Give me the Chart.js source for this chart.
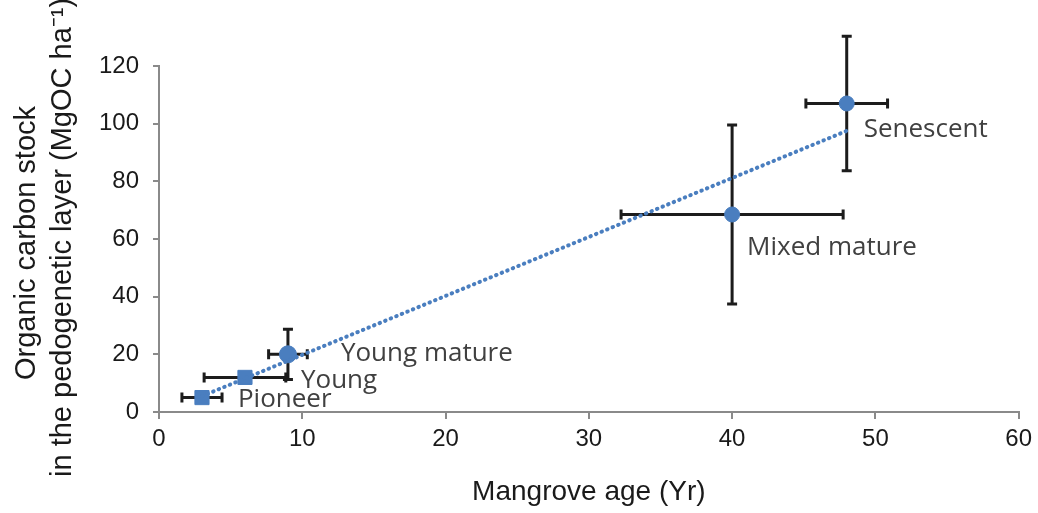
<!DOCTYPE html>
<html>
<head>
<meta charset="utf-8">
<script src="https://cdn.jsdelivr.net/npm/chart.js@4.4.1/dist/chart.umd.min.js"></script>
<style>
  body { margin: 0; background: #fff; }
  #wrap { width: 1038px; height: 513px; position: relative; }
</style>
</head>
<body>
<div id="wrap"><canvas id="chart"></canvas></div>
<script>
// dados
const stages = ['Pioneer', 'Young', 'Young mature', 'Mixed mature', 'Senescent'];
const ages = [3, 6, 9, 40, 48];
const carbonStock = [5, 12, 20, 68.5, 107];
const ageErr = [1.4, 2.85, 1.35, 7.75, 2.85];
const stockErr = [0, 0, 8.7, 31, 23.3];
const trendAges = [3, 48];
const trendStock = [5.5, 97.5];
const xTicks = [0, 10, 20, 30, 40, 50, 60];
const yTicks = [0, 20, 40, 60, 80, 100, 120];

// posição dos rótulos em pixels relativos ao ponto
const labelOffsets = [[36, 2], [56, 3], [53, -1], [15, 33], [17, 26]];
const pointStyles = ['rect', 'rect', 'circle', 'circle', 'circle'];
const pointSizes = [10, 10, 8.5, 7.5, 7.5];

const blue = '#4a7ebf';
const axisColor = '#8a8a8a';

const errorBars = {
    id: 'errorBars',
    beforeDatasetsDraw(chart) {
        const { ctx, scales: { x, y } } = chart;
        ctx.save();
        ctx.strokeStyle = '#1c1c1c';
        ctx.lineWidth = 3;
        const cap = 5;
        ages.forEach((a, i) => {
            const px = x.getPixelForValue(a);
            const py = y.getPixelForValue(carbonStock[i]);
            if (ageErr[i] > 0) {
                const x1 = x.getPixelForValue(a - ageErr[i]);
                const x2 = x.getPixelForValue(a + ageErr[i]);
                ctx.beginPath();
                ctx.moveTo(x1, py); ctx.lineTo(x2, py);
                ctx.moveTo(x1, py - cap); ctx.lineTo(x1, py + cap);
                ctx.moveTo(x2, py - cap); ctx.lineTo(x2, py + cap);
                ctx.stroke();
            }
            if (stockErr[i] > 0) {
                const y1 = y.getPixelForValue(carbonStock[i] - stockErr[i]);
                const y2 = y.getPixelForValue(carbonStock[i] + stockErr[i]);
                ctx.beginPath();
                ctx.moveTo(px, y1); ctx.lineTo(px, y2);
                ctx.moveTo(px - cap, y1); ctx.lineTo(px + cap, y1);
                ctx.moveTo(px - cap, y2); ctx.lineTo(px + cap, y2);
                ctx.stroke();
            }
        });
        ctx.restore();
    },
    afterDraw(chart) {
        const { ctx, scales: { x, y } } = chart;
        ctx.save();
        // rótulos dos estágios
        ctx.fillStyle = '#404040';
        ctx.font = '26px "Open Sans"';
        ctx.textBaseline = 'middle';
        ctx.textAlign = 'left';
        stages.forEach((s, i) => {
            const px = x.getPixelForValue(ages[i]);
            const py = y.getPixelForValue(carbonStock[i]);
            ctx.fillText(s, px + labelOffsets[i][0], py + labelOffsets[i][1]);
        });
        // título do eixo Y (duas linhas)
        ctx.fillStyle = '#1a1a1a';
        ctx.font = '29px "Liberation Sans"';
        ctx.save();
        ctx.translate(27, 243);
        ctx.rotate(-Math.PI / 2);
        ctx.textAlign = 'center';
        ctx.fillText('Organic carbon stock', 0, 0);
        ctx.restore();
        ctx.save();
        ctx.translate(63, 477);
        ctx.rotate(-Math.PI / 2);
        ctx.textAlign = 'left';
        ctx.fillText('in the pedogenetic layer (MgOC ha⁻¹)', 0, 0);
        ctx.restore();
        ctx.restore();
    }
};

new Chart(document.getElementById('chart'), {
    type: 'scatter',
    data: {
        datasets: [{
            label: 'trend',
            data: trendAges.map((a, i) => ({ x: a, y: trendStock[i] })),
            showLine: true,
            borderColor: blue,
            borderWidth: 4,
            borderDash: [0.5, 5.5],
            borderCapStyle: 'round',
            pointRadius: 0,
            clip: false
        }, {
            label: 'stages',
            data: ages.map((a, i) => ({ x: a, y: carbonStock[i] })),
            backgroundColor: blue,
            borderColor: blue,
            borderWidth: 1,
            pointStyle: pointStyles,
            pointRadius: pointSizes,
            clip: false
        }]
    },
    options: {
        responsive: true,
        maintainAspectRatio: false,
        animation: false,
        layout: { padding: { left: 0, right: 15, top: 66, bottom: 0 } },
        plugins: {
            legend: { display: false },
            tooltip: { enabled: false }
        },
        scales: {
            x: {
                type: 'linear',
                min: 0,
                max: 60,
                afterFit: (scale) => { scale.height = 101; },
                afterBuildTicks: (scale) => { scale.ticks = xTicks.map(v => ({ value: v })); },
                border: { display: true, color: axisColor, width: 2 },
                grid: { drawOnChartArea: false, drawTicks: true, tickLength: 7, color: axisColor, lineWidth: 2 },
                ticks: { color: '#1a1a1a', font: { family: 'Liberation Sans', size: 24 }, padding: 6, maxRotation: 0 },
                title: {
                    display: true,
                    text: 'Mangrove age (Yr)',
                    color: '#1a1a1a',
                    font: { family: 'Liberation Sans', size: 28 },
                    padding: { top: 0, bottom: 4 }
                }
            },
            y: {
                type: 'linear',
                min: 0,
                max: 120,
                afterFit: (scale) => { scale.width = 159; },
                afterBuildTicks: (scale) => { scale.ticks = yTicks.map(v => ({ value: v })); },
                border: { display: true, color: axisColor, width: 2 },
                grid: { drawOnChartArea: false, drawTicks: true, tickLength: 6, color: axisColor, lineWidth: 2 },
                ticks: { color: '#1a1a1a', font: { family: 'Liberation Sans', size: 24 }, padding: 14 }
            }
        }
    },
    plugins: [errorBars]
});
</script>
</body>
</html>
